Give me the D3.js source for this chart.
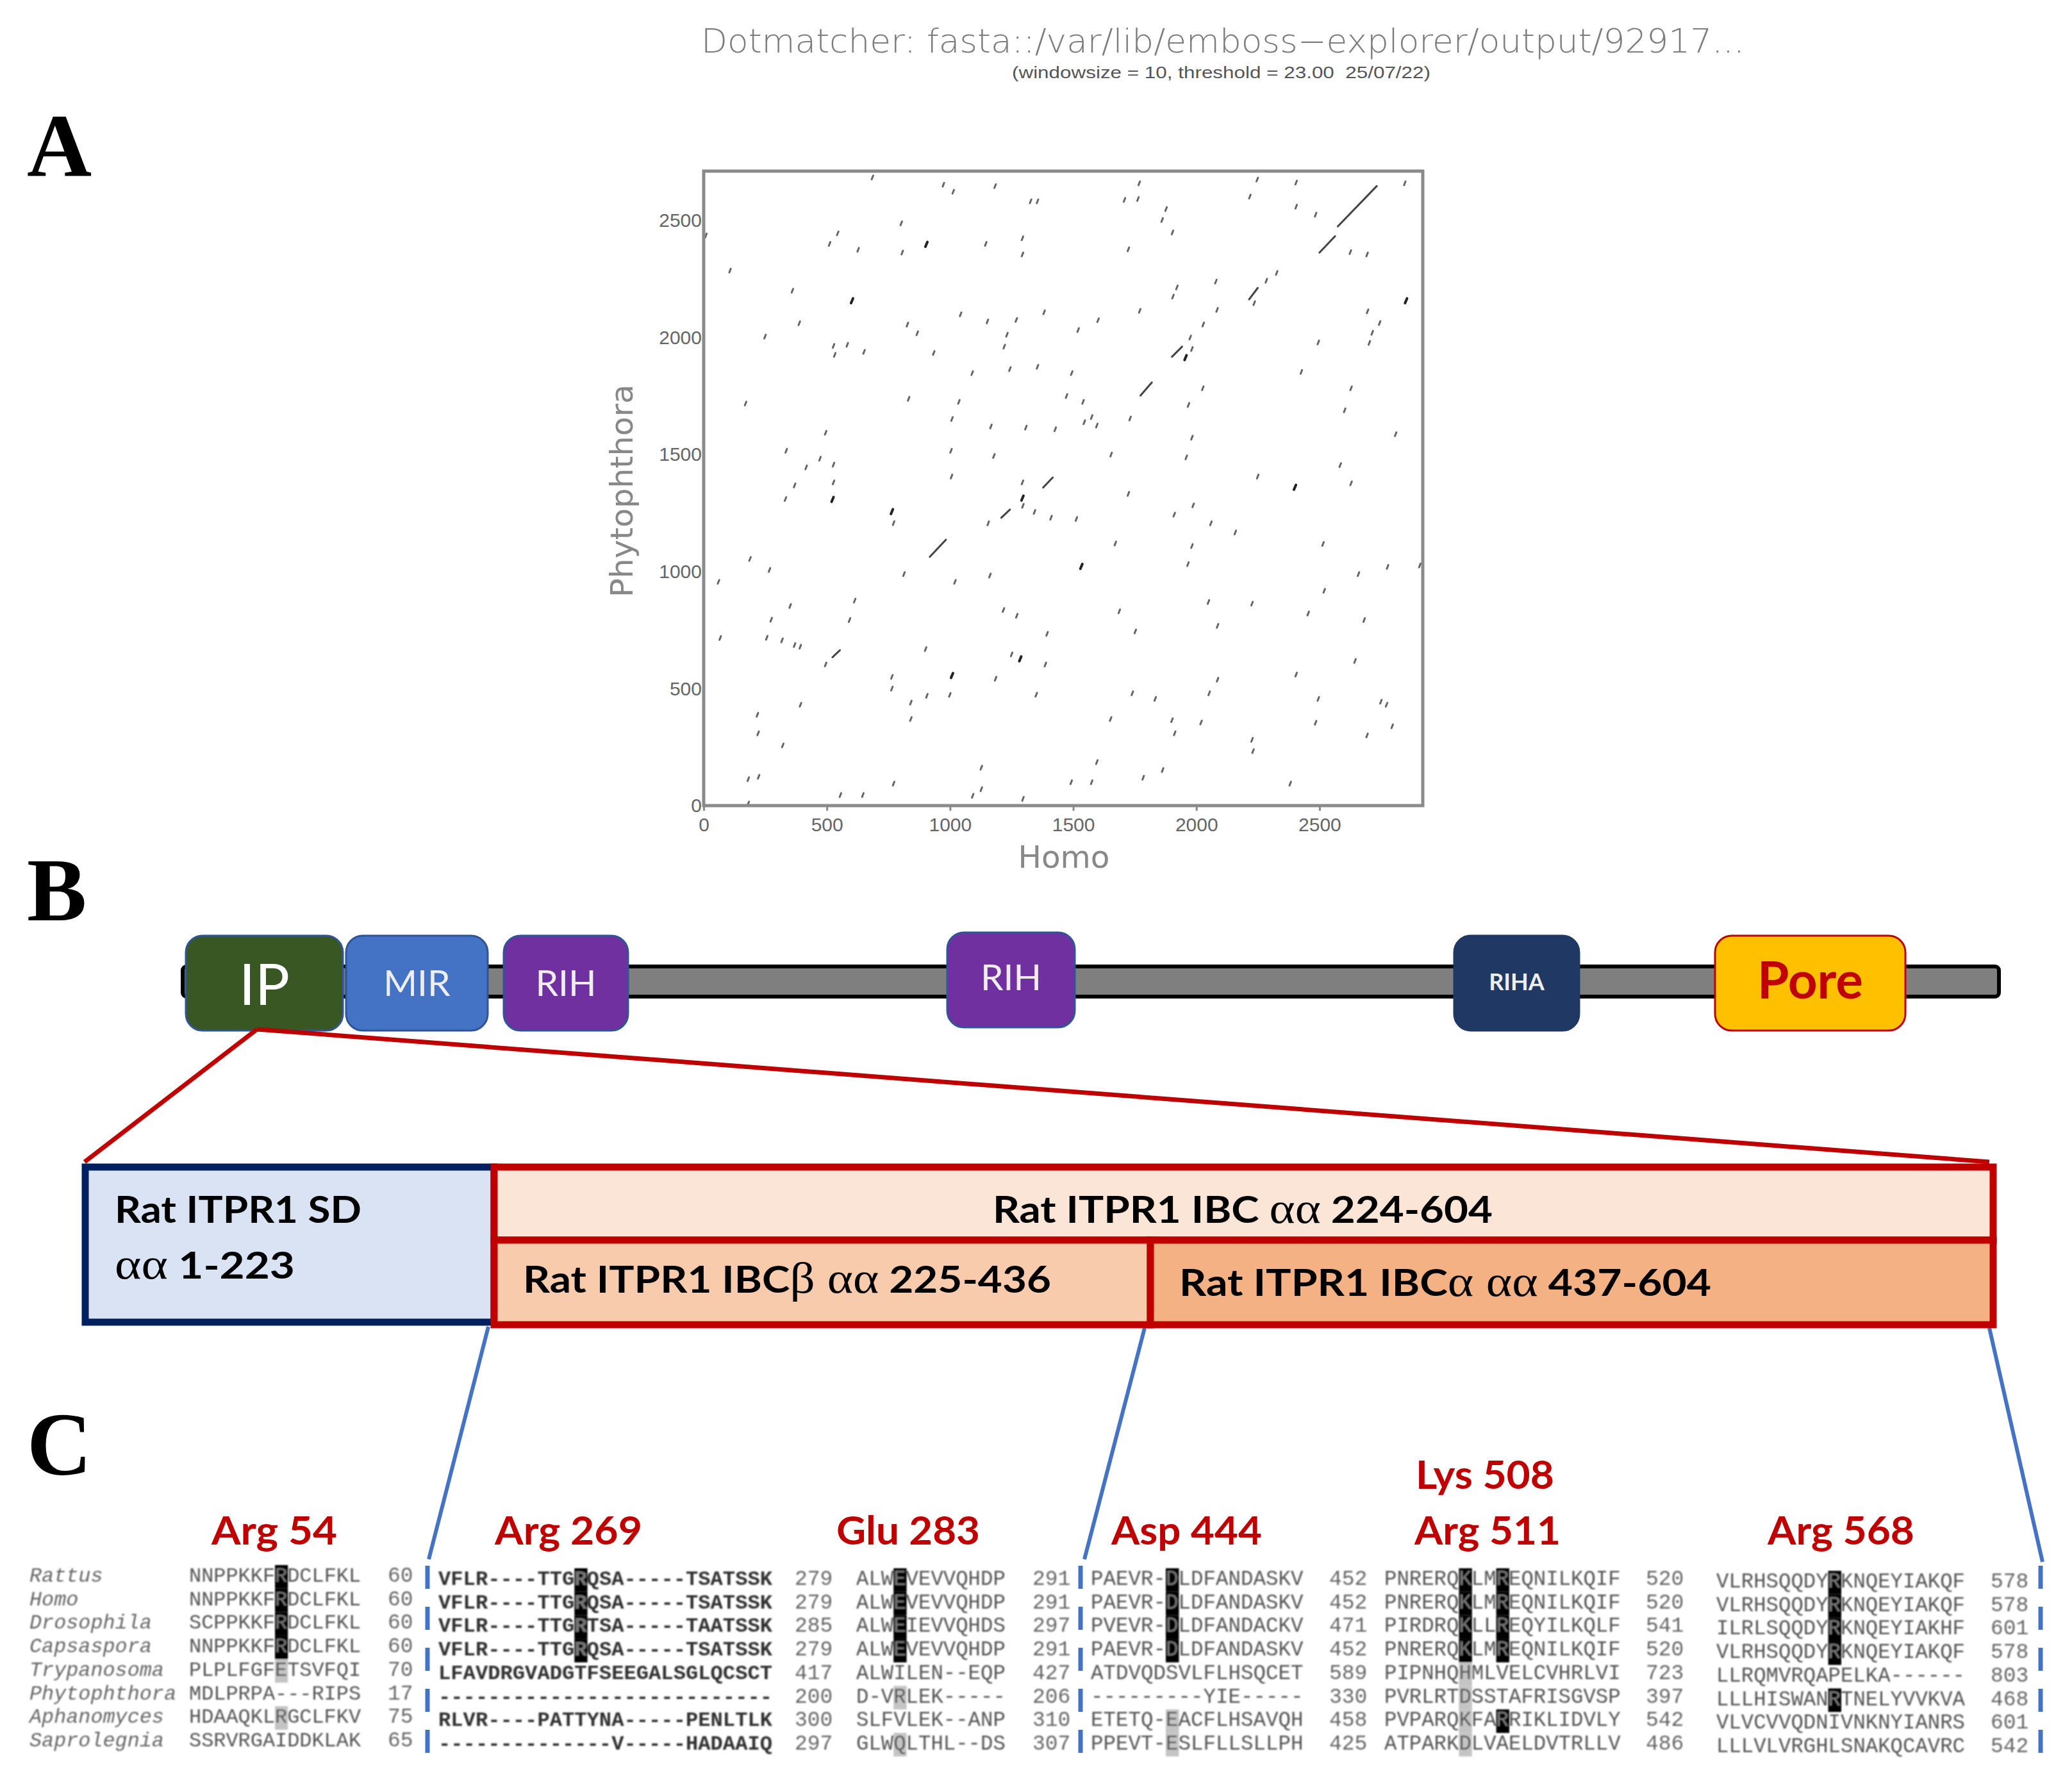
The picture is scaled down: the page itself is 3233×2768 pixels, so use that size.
<!DOCTYPE html>
<html>
<head>
<meta charset="utf-8">
<title>ITPR1 dotplot and alignment</title>
<script src="https://cdn.jsdelivr.net/npm/d3@7"></script>
<style>
  body { margin: 0; background: #fff; }
  svg { display: block; }
</style>
</head>
<body>
<svg id="chart" width="3233" height="2768" viewBox="0 0 3233 2768"></svg>
<script>
// ---- A: dotplot values, Homo position / Phytophthora position
const homoTicks = [0, 500, 1000, 1500, 2000, 2500];
const phytoTicks = [0, 500, 1000, 1500, 2000, 2500];
const homoLength = 2919;
const phytoLength = 2711;

const shortMatches = [
  [685,2684],[973,2653],[1013,2623],[1183,2647],[1768,2659],[2247,2675],[2405,2662],[2846,2659],[2217,2602],[1327,2582],
  [1355,2582],[1708,2588],[1763,2592],[2405,2559],[1877,2549],[2484,2525],[1861,2502],[802,2488],[544,2445],[9,2436],
  [1903,2449],[1294,2424],[511,2400],[1145,2400],[627,2375],[806,2363],[1724,2377],[1294,2355],[2625,2365],[2693,2355],
  [107,2286],[360,2200],[2326,2276],[2284,2243],[2079,2239],[1921,2214],[1905,2175],[2235,2147],[2851,2157],[2695,2112],
  [1770,2114],[1382,2108],[2084,2118],[1043,2099],[1152,2069],[1269,2075],[1601,2074],[388,2061],[827,2055],[2028,2056],
  [2744,2062],[867,2018],[1231,2012],[1520,2032],[2714,2020],[249,2004],[1975,2000],[2495,1979],[2702,1977],[527,1964],
  [583,1969],[1220,1961],[1982,1951],[532,1926],[651,1939],[934,1934],[2426,1853],[1243,1865],[1355,1875],[1090,1848],
  [1494,1848],[2628,1783],[2026,1783],[832,1738],[170,1718],[1036,1725],[1473,1750],[1540,1725],[1968,1712],[2602,1689],
  [1008,1652],[1731,1654],[1575,1660],[1545,1638],[1596,1624],[1166,1620],[1308,1615],[1427,1608],[495,1593],[1982,1572],
  [2809,1587],[335,1516],[1004,1516],[1178,1494],[1654,1500],[1959,1488],[472,1482],[527,1457],[2584,1455],[416,1445],
  [1006,1406],[2249,1406],[1294,1381],[527,1381],[2628,1377],[369,1368],[1724,1332],[332,1310],[1987,1283],[1296,1281],
  [1343,1255],[1910,1243],[1410,1230],[1513,1225],[771,1207],[1155,1206],[2059,1206],[2158,1167],[1671,1120],[2514,1118],
  [1982,1109],[188,1054],[1966,1032],[2907,1026],[2776,1020],[267,1007],[2658,989],[813,989],[1162,983],[60,956],
  [1020,956],[2519,918],[613,876],[2049,870],[2226,863],[351,853],[1217,836],[1687,830],[2454,821],[1271,811],
  [274,794],[592,793],[2681,793],[2086,768],[1752,744],[1394,734],[67,716],[256,717],[318,706],[369,686],
  [392,679],[901,669],[2644,618],[1250,646],[1387,603],[495,603],[2405,560],[764,550],[1185,542],[2086,538],
  [764,500],[1740,480],[2052,480],[1350,474],[906,469],[999,473],[1833,456],[2495,456],[2749,444],[2772,431],
  [841,440],[393,431],[218,388],[1652,370],[841,370],[1901,365],[2019,355],[2484,354],[2795,339],[221,309],
  [1912,309],[2693,300],[2226,281],[321,257],[2230,233],[1596,186],[1127,162],[1863,152],[223,123],[181,113],
  [1784,119],[771,94],[1492,100],[1575,100],[2381,94],[1127,70],[1092,42],[555,45],[646,45],[1296,29],[181,9]
];
const darkMatches = [
  [904,2398],[602,2157],[2851,2157],[1956,1914],[2400,1360],[523,1308],[1294,1314],[764,1256],[1533,1022],[1285,627],[1008,556]
];
const longMatches = [
  [2574,2475,2732,2647],[2500,2363,2563,2433],[2214,2163,2249,2212],[1773,1752,1819,1808],[1901,1918,1942,1961],
  [918,1063,983,1136],[523,634,553,664],[1208,1230,1243,1265],[1378,1359,1417,1402]
];

// ---- B: labels
const domainLabels = ["IP", "MIR", "RIH", "RIH", "RIHA", "Pore"];

// ---- C: alignment
const species = ["Rattus", "Homo", "Drosophila", "Capsaspora", "Trypanosoma", "Phytophthora", "Aphanomyces", "Saprolegnia"];

const seq1 = ["NNPPKKFRDCLFKL", "NNPPKKFRDCLFKL", "SCPPKKFRDCLFKL", "NNPPKKFRDCLFKL", "PLPLFGFETSVFQI", "MDLPRPA---RIPS", "HDAAQKLRGCLFKV", "SSRVRGAIDDKLAK"];
const end1 = [60, 60, 60, 60, 70, 17, 75, 65];
const seq2 = ["VFLR----TTGRQSA-----TSATSSK", "VFLR----TTGRQSA-----TSATSSK", "VFLR----TTGRTSA-----TAATSSK", "VFLR----TTGRQSA-----TSATSSK", "LFAVDRGVADGTFSEEGALSGLQCSCT", "---------------------------", "RLVR----PATTYNA-----PENLTLK", "--------------V-----HADAAIQ"];
const end2 = [279, 279, 285, 279, 417, 200, 300, 297];
const seq3 = ["ALWEVEVVQHDP", "ALWEVEVVQHDP", "ALWEIEVVQHDS", "ALWEVEVVQHDP", "ALWILEN--EQP", "D-VRLEK-----", "SLFVLEK--ANP", "GLWQLTHL--DS"];
const end3 = [291, 291, 297, 291, 427, 206, 310, 307];
const seq4 = ["PAEVR-DLDFANDASKV", "PAEVR-DLDFANDASKV", "PVEVR-DLDFANDACKV", "PAEVR-DLDFANDASKV", "ATDVQDSVLFLHSQCET", "---------YIE-----", "ETETQ-EACFLHSAVQH", "PPEVT-ESLFLLSLLPH"];
const end4 = [452, 452, 471, 452, 589, 330, 458, 425];
const seq5 = ["PNRERQKLMREQNILKQIF", "PNRERQKLMREQNILKQIF", "PIRDRQKLLREQYILKQLF", "PNRERQKLMREQNILKQIF", "PIPNHQHMLVELCVHRLVI", "PVRLRTDSSTAFRISGVSP", "PVPARQKFARRIKLIDVLY", "ATPARKDLVAELDVTRLLV"];
const end5 = [520, 520, 541, 520, 723, 397, 542, 486];
const seq6 = ["VLRHSQQDYRKNQEYIAKQF", "VLRHSQQDYRKNQEYIAKQF", "ILRLSQQDYRKNQEYIAKHF", "VLRHSQQDYRKNQEYIAKQF", "LLRQMVRQAPELKA------", "LLLHISWANRTNELYVVKVA", "VLVCVVQDNIVNKNYIANRS", "LLLVLVRGHLSNAKQCAVRC"];
const end6 = [578, 578, 601, 578, 803, 468, 601, 542];

// conservation per row at the marked residue: 2 = identical, 1 = similar, 0 = none
const shade54 = [2, 2, 2, 2, 1, 0, 1, 0];
const shade269 = [2, 2, 2, 2, 0, 0, 0, 0];
const shade283 = [2, 2, 2, 2, 0, 1, 0, 1];
const shade444 = [2, 2, 2, 2, 0, 0, 1, 1];
const shade508 = [2, 2, 2, 2, 1, 1, 1, 1];
const shade511 = [2, 2, 2, 2, 0, 0, 2, 0];
const shade568 = [2, 2, 2, 2, 0, 2, 0, 0];

const svg = d3.select("#chart");
const RED = "#c00000", BLUE = "#4472c4", NAVY = "#002060";
const SERIF = "'Liberation Serif', serif";
const MONO = "'Liberation Mono', monospace";
const LABEL = "Lato, 'Open Sans', sans-serif";

svg.append("rect").attr("width", 3233).attr("height", 2768).attr("fill", "#fff");

// the source is a low resolution scan, soften small print a little
svg.append("defs").append("filter").attr("id", "soft")
  .append("feGaussianBlur").attr("stdDeviation", 1);

// Panel letters
[["A", 275], ["B", 1436], ["C", 2301]].forEach(function(d) {
  svg.append("text").attr("x", 42).attr("y", d[1])
    .attr("font-family", SERIF).attr("font-weight", 700).attr("font-size", 140)
    .attr("fill", "#000").text(d[0]);
});

// ---------- A: dotplot ----------
const x = d3.scaleLinear().domain([0, homoLength]).range([1098, 2220]);
const y = d3.scaleLinear().domain([0, phytoLength]).range([1257, 267]);

svg.append("text").attr("x", 1094).attr("y", 82)
  .attr("textLength", 1628).attr("lengthAdjust", "spacingAndGlyphs")
  .attr("font-family", "'DejaVu Sans', sans-serif").attr("font-weight", 200).attr("font-size", 52)
  .attr("fill", "#7c7c7c").text("Dotmatcher: fasta::/var/lib/emboss\u2212explorer/output/92917...");
svg.append("text").attr("x", 1579).attr("y", 122)
  .attr("textLength", 653).attr("lengthAdjust", "spacingAndGlyphs")
  .attr("font-family", "'Liberation Sans', sans-serif").attr("font-size", 25)
  .attr("fill", "#555").text("(windowsize = 10, threshold = 23.00\u00a0\u00a025/07/22)");

const matchGroup = svg.append("g").attr("fill", "none").attr("stroke-linecap", "round");
// a match is a short diagonal; draw it around its position
const matchLine = function(sel, dx, dy) {
  sel.attr("x1", function(d) { return x(d[0] - dx); })
     .attr("y1", function(d) { return y(d[1] - dy); })
     .attr("x2", function(d) { return x(d[0] + dx); })
     .attr("y2", function(d) { return y(d[1] + dy); });
};
matchGroup.selectAll(".m").data(shortMatches).join("line").attr("class", "m")
  .call(matchLine, 3, 8).attr("stroke", "#666").attr("stroke-width", 3);
matchGroup.selectAll(".k").data(darkMatches).join("line").attr("class", "k")
  .call(matchLine, 4, 10).attr("stroke", "#222").attr("stroke-width", 4);
matchGroup.selectAll(".l").data(longMatches).join("line").attr("class", "l")
  .attr("x1", function(d) { return x(d[0]); }).attr("y1", function(d) { return y(d[1]); })
  .attr("x2", function(d) { return x(d[2]); }).attr("y2", function(d) { return y(d[3]); })
  .attr("stroke", "#444").attr("stroke-width", 3);

svg.append("rect").attr("x", x(0)).attr("y", y(phytoLength))
  .attr("width", x(homoLength) - x(0)).attr("height", y(0) - y(phytoLength))
  .attr("fill", "none").attr("stroke", "#8a8a8a").attr("stroke-width", 5);

const xAxis = svg.append("g").attr("transform", "translate(0," + y(0) + ")")
  .call(d3.axisBottom(x).tickValues(homoTicks).tickFormat(d3.format("d")).tickSize(8).tickPadding(11));
const yAxis = svg.append("g").attr("transform", "translate(" + x(0) + ",0)")
  .call(d3.axisLeft(y).tickValues(phytoTicks).tickFormat(d3.format("d")).tickSize(0).tickPadding(3));
[xAxis, yAxis].forEach(function(a) {
  a.select(".domain").remove();
  a.selectAll("line").attr("stroke", "#8a8a8a").attr("stroke-width", 3);
  a.selectAll("text").attr("font-family", "'Liberation Sans', sans-serif")
    .attr("font-size", 30).attr("fill", "#666");
});

svg.append("text").attr("x", 1660).attr("y", 1354).attr("text-anchor", "middle")
  .attr("textLength", 143).attr("lengthAdjust", "spacingAndGlyphs")
  .attr("font-family", "'DejaVu Sans', sans-serif").attr("font-size", 48)
  .attr("fill", "#888").text("Homo");
svg.append("text").attr("transform", "translate(987,932) rotate(-90)")
  .attr("textLength", 332).attr("lengthAdjust", "spacingAndGlyphs")
  .attr("font-family", "'DejaVu Sans', sans-serif").attr("font-size", 48)
  .attr("fill", "#888").text("Phytophthora");

// ---------- B: domain bar ----------
svg.append("rect").attr("x", 285).attr("y", 1508).attr("width", 2834).attr("height", 47).attr("rx", 6)
  .attr("fill", "#7f7f7f").attr("stroke", "#000").attr("stroke-width", 6);

const domainX = [290, 540, 786, 1478, 2269, 2676];
const domainR = [535, 761, 980, 1677, 2464, 2973];
const domainTop = [1460, 1460, 1460, 1455, 1460, 1460];
const domainFill = ["#385723", "#4472c4", "#7030a0", "#7030a0", "#1f3864", "#ffc000"];
const domainEdge = ["#2f5597", "#2f5597", "#2f5597", "#2f5597", "#1f3864", RED];
const domainBase = [1568, 1554, 1554, 1545, 1545, 1558];
const domainSize = [90, 57, 57, 57, 36, 80];
const domainWeight = [400, 400, 400, 400, 700, 700];
const domainText = ["#fff", "#eee", "#eee", "#eee", "#eee", RED];

domainLabels.forEach(function(label, i) {
  svg.append("rect").attr("x", domainX[i]).attr("y", domainTop[i])
    .attr("width", domainR[i] - domainX[i]).attr("height", 148).attr("rx", 26)
    .attr("fill", domainFill[i]).attr("stroke", domainEdge[i]).attr("stroke-width", 3);
  svg.append("text").attr("x", (domainX[i] + domainR[i]) / 2).attr("y", domainBase[i])
    .attr("text-anchor", "middle").attr("font-family", LABEL)
    .attr("font-size", domainSize[i]).attr("font-weight", domainWeight[i])
    .attr("fill", domainText[i]).text(label);
});

// zoom lines from the IP domain to the region boxes
[[401, 1606, 132, 1813], [401, 1606, 3104, 1813]].forEach(function(d) {
  svg.append("line").attr("x1", d[0]).attr("y1", d[1]).attr("x2", d[2]).attr("y2", d[3])
    .attr("stroke", RED).attr("stroke-width", 7);
});
[[762, 2070, 669, 2433], [1786, 2072, 1692, 2433], [3104, 2072, 3187, 2437]].forEach(function(d) {
  svg.append("line").attr("x1", d[0]).attr("y1", d[1]).attr("x2", d[2]).attr("y2", d[3])
    .attr("stroke", BLUE).attr("stroke-width", 6);
});

// region boxes (stroke centred on edge)
const box = function(x0, y0, x1, y1, fill, edge) {
  svg.append("rect").attr("x", x0).attr("y", y0).attr("width", x1 - x0).attr("height", y1 - y0)
    .attr("fill", fill).attr("stroke", edge).attr("stroke-width", 11);
};
box(133, 1821, 771, 2063, "#dae3f3", NAVY);
box(771, 1821, 3110, 1935, "#fbe5d6", RED);
box(771, 1935, 1795, 2067, "#f8cbad", RED);
box(1795, 1935, 3110, 2067, "#f4b183", RED);

// label parts: [text, serif?]
const regionLabel = function(xPos, yPos, len, parts) {
  const t = svg.append("text").attr("x", xPos).attr("y", yPos)
    .attr("textLength", len).attr("lengthAdjust", "spacingAndGlyphs")
    .attr("font-family", LABEL).attr("font-weight", 700).attr("font-size", 58).attr("fill", "#000");
  parts.forEach(function(p) {
    const s = t.append("tspan").text(p[0]);
    if (p[1]) s.attr("font-family", SERIF).attr("font-weight", 400).attr("font-size", 68);
  });
};
regionLabel(179, 1908, 385, [["Rat ITPR1 SD"]]);
regionLabel(179, 1995, 281, [["\u03b1\u03b1", true], [" 1-223"]]);
regionLabel(1549, 1908, 780, [["Rat ITPR1 IBC "], ["\u03b1\u03b1", true], [" 224-604"]]);
regionLabel(816, 2017, 824, [["Rat ITPR1 IBC"], ["\u03b2 \u03b1\u03b1", true], [" 225-436"]]);
regionLabel(1840, 2022, 830, [["Rat ITPR1 IBC"], ["\u03b1 \u03b1\u03b1", true], [" 437-604"]]);

// ---------- C: alignment ----------
const rowCount = species.length;
const rowScale = d3.scaleBand().domain(d3.range(rowCount)).range([0, rowCount * 36.7]);
const textDrop = 26;

const alignment = svg.append("g").attr("filter", "url(#soft)");

const speciesTop = 2442;
species.forEach(function(name, r) {
  alignment.append("text").attr("x", 46).attr("y", speciesTop + rowScale(r) + textDrop)
    .attr("font-family", MONO).attr("font-style", "italic").attr("font-size", 31.8)
    .attr("fill", "#666").text(name);
});

const blocks = [
  { seq: seq1, end: end1, marks: [[7, shade54]], x0: 295, top: 2442, step: 19.15, endX: 605, fill: "#555", weight: 400 },
  { seq: seq2, end: end2, marks: [[11, shade269]], x0: 684, top: 2447, step: 19.3, endX: 1240, fill: "#333", weight: 700 },
  { seq: seq3, end: end3, marks: [[3, shade283]], x0: 1336, top: 2447, step: 19.4, endX: 1611, fill: "#555", weight: 400 },
  { seq: seq4, end: end4, marks: [[6, shade444]], x0: 1702, top: 2447, step: 19.5, endX: 2074, fill: "#555", weight: 400 },
  { seq: seq5, end: end5, marks: [[6, shade508], [9, shade511]], x0: 2160, top: 2447, step: 19.4, endX: 2568, fill: "#555", weight: 400 },
  { seq: seq6, end: end6, marks: [[9, shade568]], x0: 2678, top: 2451, step: 19.4, endX: 3106, fill: "#555", weight: 400 }
];
const shadeColor = d3.scaleOrdinal().domain([1, 2]).range(["#c4c4c4", "#000"]);

blocks.forEach(function(b) {
  const g = alignment.append("g");
  b.marks.forEach(function(m) {
    g.selectAll(null).data(m[1].map(function(s, r) { return { s: s, r: r }; }).filter(function(d) { return d.s > 0; }))
      .join("rect")
      .attr("x", b.x0 + m[0] * b.step).attr("y", function(d) { return b.top + rowScale(d.r); })
      .attr("width", b.step + 1).attr("height", rowScale.bandwidth())
      .attr("fill", function(d) { return shadeColor(d.s); });
  });
  b.seq.forEach(function(s, r) {
    const t = g.append("text").attr("x", b.x0).attr("y", b.top + rowScale(r) + textDrop)
      .attr("font-family", MONO).attr("font-weight", b.weight)
      .attr("font-size", b.step / 0.6).attr("fill", b.fill);
    // residues on black cells are drawn light
    const cols = b.marks.filter(function(m) { return m[1][r] === 2; }).map(function(m) { return m[0]; });
    let start = 0;
    cols.forEach(function(c) {
      t.append("tspan").text(s.slice(start, c));
      t.append("tspan").attr("fill", "#777").text(s[c]);
      start = c + 1;
    });
    t.append("tspan").text(s.slice(start));
    g.append("text").attr("x", b.endX).attr("y", b.top + rowScale(r) + textDrop)
      .attr("font-family", MONO).attr("font-size", 33).attr("fill", "#666").text(b.end[r]);
  });
});

// dashed separators between alignment blocks
[667, 1686, 3184].forEach(function(xPos) {
  svg.append("line").attr("x1", xPos).attr("x2", xPos).attr("y1", 2443).attr("y2", 2735)
    .attr("stroke", BLUE).attr("stroke-width", 7).attr("stroke-dasharray", "36 28");
});

// residue labels
const residueLabels = ["Arg 54", "Arg 269", "Glu 283", "Asp 444", "Lys 508", "Arg 511", "Arg 568"];
const residueX = [330, 772, 1305, 1734, 2209, 2207, 2758];
const residueLen = [196, 230, 224, 235, 216, 228, 229];
const residueBase = [2410, 2410, 2410, 2410, 2323, 2410, 2410];
residueLabels.forEach(function(label, i) {
  svg.append("text").attr("x", residueX[i]).attr("y", residueBase[i])
    .attr("textLength", residueLen[i]).attr("lengthAdjust", "spacingAndGlyphs")
    .attr("font-family", LABEL).attr("font-weight", 700).attr("font-size", 62)
    .attr("fill", RED).text(label);
});
</script>
</body>
</html>
